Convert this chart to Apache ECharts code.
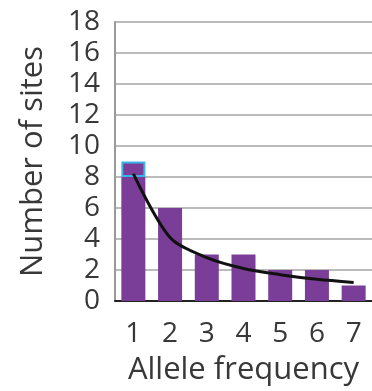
<!DOCTYPE html>
<html><head><meta charset="utf-8">
<script src="https://cdn.jsdelivr.net/npm/echarts@6/dist/echarts.min.js"></script>
<style>html,body{margin:0;padding:0;background:#fff}#c{width:372px;height:391px}</style>
</head><body><div id="c"></div>
<script>
var categories = ['1','2','3','4','5','6','7'];
var siteCounts = [9, 6, 3, 3, 2, 2, 1];
var highlighted = [1, 0, 0, 0, 0, 0, 0];
var expected = [8.2, 4.1, 2.8, 2.1, 1.7, 1.4, 1.2];
var yTicks = [0, 2, 4, 6, 8, 10, 12, 14, 16, 18];

var purple = '#7a3e99';
var baseVals = siteCounts.map(function(v, i){ return v - highlighted[i]; });
var topVals = highlighted.map(function(v){ return v ? v : null; });
var font = '"Open Sans", "Noto Sans", sans-serif';
var txt = '#383838';
var chart = echarts.init(document.getElementById('c'));
chart.setOption({
  animation: false,
  grid: {left: 115, top: 22, width: 262.5, height: 280},
  xAxis: {
    type: 'category', data: categories, boundaryGap: true,
    axisTick: {show: false},
    axisLine: {lineStyle: {color: '#222', width: 2}},
    axisLabel: {color: txt, fontSize: 28, fontFamily: font, margin: 19},
    name: 'Allele frequency', nameLocation: 'middle', nameGap: 54,
    nameTextStyle: {color: txt, fontSize: 31, fontFamily: font}
  },
  yAxis: {
    type: 'value', min: yTicks[0], max: yTicks[yTicks.length-1], interval: 2,
    axisLine: {show: true, lineStyle: {color: '#999', width: 2}},
    axisTick: {show: false},
    splitLine: {lineStyle: {color: '#bbb', width: 2}},
    axisLabel: {color: txt, fontSize: 28, fontFamily: font, margin: 15},
    name: 'Number of sites', nameLocation: 'middle', nameGap: 66,
    nameTextStyle: {color: txt, fontSize: 31, fontFamily: font}
  },
  series: [
    {type: 'bar', stack: 's', data: baseVals, barWidth: 24, itemStyle: {color: purple}},
    {type: 'bar', stack: 's', data: topVals, barWidth: 24,
     itemStyle: {color: purple, borderColor: '#3ab4e6', borderWidth: 2}},
    {type: 'line', data: expected, smooth: 0.3, symbol: 'none',
     lineStyle: {color: '#111', width: 3}}
  ]
});
</script></body></html>
